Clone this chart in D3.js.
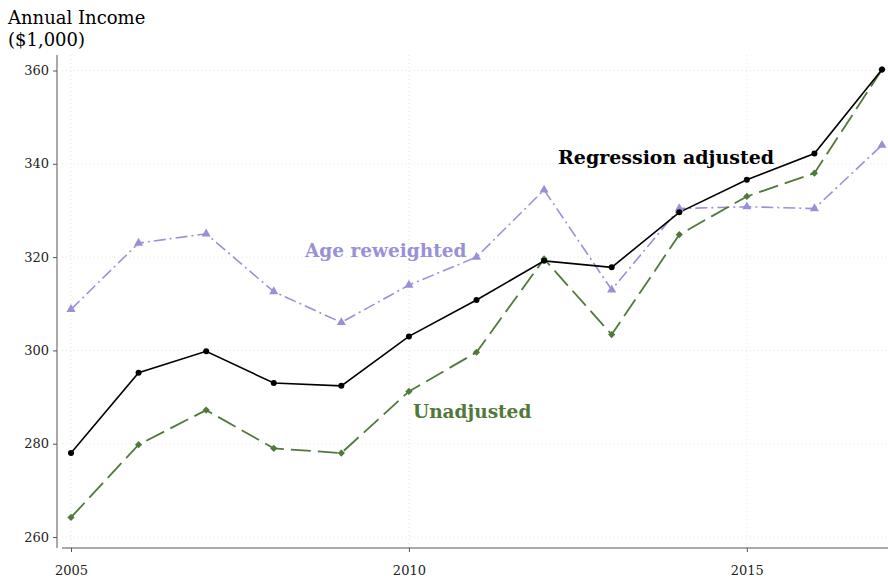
<!DOCTYPE html>
<html><head><meta charset="utf-8">
<script src="https://cdn.jsdelivr.net/npm/d3@7"></script>
<style>body{margin:0;background:#fff}text{font-family:"DejaVu Serif",serif}</style>
</head><body><svg id="c" width="888" height="586"></svg>
<script>
var years = [2005,2006,2007,2008,2009,2010,2011,2012,2013,2014,2015,2016,2017];
var regression = [278,295.2,299.8,293,292.4,303,310.8,319.2,317.8,329.6,336.6,342.2,360.2];
var unadjusted = [264.2,279.8,287.2,279,278,291.2,299.6,319.6,303.4,324.8,333,338,360.2];
var reweighted = [308.8,323,325,312.6,306,314,320,334.4,313,330.4,330.8,330.4,344];
var yTicks = [260,280,300,320,340,360];
var xTicks = [2005,2010,2015];

var svg = d3.select("#c");
var x = d3.scaleLinear().domain([2005,2017]).range([71,882]);
var y = d3.scaleLinear().domain([260,360]).range([537,70.5]);

// grid
svg.selectAll(".gy").data(yTicks).enter().append("line")
  .attr("x1",62).attr("x2",888).attr("y1",d=>y(d)).attr("y2",d=>y(d))
  .attr("stroke","#e6e6e6").attr("stroke-dasharray","1,3");
svg.selectAll(".gx").data(xTicks).enter().append("line")
  .attr("x1",d=>x(d)).attr("x2",d=>x(d)).attr("y1",55).attr("y2",548)
  .attr("stroke","#e6e6e6").attr("stroke-dasharray","1,3");

// axes
var ya = svg.append("g").attr("transform","translate(57,0)")
  .call(d3.axisLeft(y).tickValues(yTicks).tickSize(4).tickPadding(4));
ya.select(".domain").attr("d","M0,55V548").attr("stroke","#555");
var xa = svg.append("g").attr("transform","translate(0,548)")
  .call(d3.axisBottom(x).tickValues(xTicks).tickFormat(d3.format("d")).tickSize(4).tickPadding(14));
xa.select(".domain").attr("d","M62,0H888").attr("stroke","#555");
svg.selectAll(".tick text").attr("font-size",13).attr("fill","#222");
svg.selectAll(".tick line").attr("stroke","#555");

svg.append("text").attr("x",8).attr("y",24).attr("font-size",18).text("Annual Income");
svg.append("text").attr("x",8).attr("y",46).attr("font-size",18).text("($1,000)");

var line = d3.line().x((d,i)=>x(years[i])).y(d=>y(d));
var green = "#50793a", purple = "#9a90d8";

svg.append("path").datum(reweighted).attr("d",line).attr("fill","none")
  .attr("stroke",purple).attr("stroke-width",1.6).attr("stroke-dasharray","12,4,2,4");
svg.append("path").datum(unadjusted).attr("d",line).attr("fill","none")
  .attr("stroke",green).attr("stroke-width",1.8).attr("stroke-dasharray","20,7");
svg.append("path").datum(regression).attr("d",line).attr("fill","none")
  .attr("stroke","#000").attr("stroke-width",1.6);

svg.selectAll(".tri").data(reweighted).enter().append("path")
  .attr("d",d3.symbol(d3.symbolTriangle,36)())
  .attr("transform",(d,i)=>"translate("+x(years[i])+","+y(d)+")").attr("fill",purple);
svg.selectAll(".dia").data(unadjusted).enter().append("path")
  .attr("d",d3.symbol(d3.symbolSquare,26)())
  .attr("transform",(d,i)=>"translate("+x(years[i])+","+y(d)+") rotate(45)").attr("fill",green);
svg.selectAll(".dot").data(regression).enter().append("circle")
  .attr("cx",(d,i)=>x(years[i])).attr("cy",d=>y(d)).attr("r",3).attr("fill","#000");

svg.append("text").attr("x",558).attr("y",164).attr("font-size",19).attr("font-weight","bold").text("Regression adjusted");
svg.append("text").attr("x",305).attr("y",257).attr("font-size",18.5).attr("font-weight","bold").attr("fill",purple).text("Age reweighted");
svg.append("text").attr("x",413).attr("y",418).attr("font-size",18.5).attr("font-weight","bold").attr("fill",green).text("Unadjusted");
</script></body></html>
